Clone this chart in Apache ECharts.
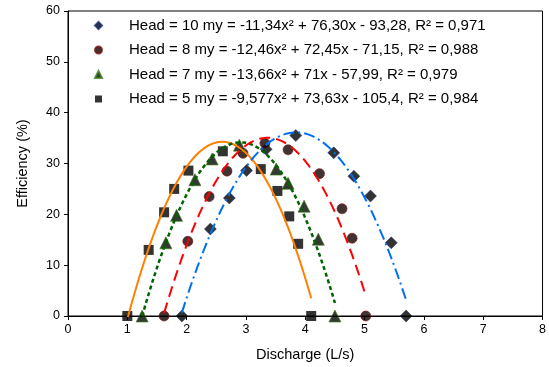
<!DOCTYPE html>
<html>
<head>
<meta charset="utf-8">
<script src="https://cdn.jsdelivr.net/npm/echarts@6/dist/echarts.min.js"></script>
<style>
  html, body { margin: 0; padding: 0; background: #fff; }
  #chart { width: 549px; height: 367px; }
</style>
</head>
<body>
<div id="chart"></div>
<script>
// Measured pump efficiency against discharge at four heads
const q10 = [1.92, 2.40, 2.72, 3.01, 3.34, 3.84, 4.48, 4.82, 5.10, 5.45, 5.70];
const eff10 = [0, 17.1, 23.2, 28.6, 32.8, 35.5, 32.1, 27.5, 23.6, 14.4, 0];

const q8 = [1.62, 2.02, 2.38, 2.68, 2.95, 3.32, 3.71, 4.24, 4.62, 4.79, 5.02];
const eff8 = [0, 14.7, 23.5, 28.5, 32.0, 34.0, 32.7, 28.0, 21.1, 15.3, 0];

const q7 = [1.25, 1.65, 1.83, 2.14, 2.43, 2.89, 3.51, 3.71, 3.98, 4.22, 4.50];
const eff7 = [0, 14.4, 19.8, 26.8, 30.9, 33.6, 28.9, 26.1, 21.6, 15.1, 0];

const q5 = [1.00, 1.36, 1.62, 1.79, 2.03, 2.61, 3.25, 3.53, 3.73, 3.88, 4.10];
const eff5 = [0, 13.0, 20.4, 25.0, 28.6, 32.4, 28.9, 24.6, 19.6, 14.2, 0];

// Quadratic trendline coefficients [a, b, c] for y = a x² + b x + c
const fitA = [-11.34, 76.30, -93.28];
const fitB = [-12.46, 72.45, -71.15];
const fitC = [-13.66, 71, -57.99];
const fitD = [-9.577, 73.63, -105.4];

const legendNames = [
  'Head = 10 my = -11,34x² + 76,30x - 93,28, R² = 0,971',
  'Head = 8 my = -12,46x² + 72,45x - 71,15, R² = 0,988',
  'Head = 7 my = -13,66x² + 71x - 57,99, R² = 0,979',
  'Head = 5 my = -9,577x² + 73,63x - 105,4, R² = 0,984'
];
const legendIcons = ['diamond', 'circle', 'triangle', 'rect'];

const xTicks = [0, 1, 2, 3, 4, 5, 6, 7, 8];
const yTicks = [0, 10, 20, 30, 40, 50, 60];

const FONT = '"Liberation Sans", Arial, sans-serif';

function pairs(xs, ys) { return xs.map((x, i) => [x, ys[i]]); }

// Trendline drawn across the x range of its data
function trend(coef, xs) {
  const lo = Math.min(...xs), hi = Math.max(...xs);
  const pts = [];
  const n = 80;
  for (let i = 0; i <= n; i++) {
    const x = lo + (hi - lo) * i / n;
    pts.push([x, coef[0] * x * x + coef[1] * x + coef[2]]);
  }
  return pts;
}

const chart = echarts.init(document.getElementById('chart'), null, { renderer: 'canvas' });

const option = {
  animation: false,
  backgroundColor: '#fff',
  grid: {
    left: 68, top: 11, right: 3, bottom: 50,
    show: true, borderColor: '#000', borderWidth: 1, backgroundColor: 'transparent'
  },
  legend: {
    data: legendNames.map((n, i) => ({ name: n, icon: legendIcons[i] })),
    orient: 'vertical',
    left: 89, top: 13,
    itemWidth: 7, itemHeight: 7, itemGap: 9.5,
    textStyle: { fontFamily: FONT, fontSize: 15, color: '#000', padding: [0, 0, 0, 22] }
  },
  xAxis: {
    type: 'value', min: xTicks[0], max: xTicks[xTicks.length - 1], interval: 1,
    name: 'Discharge (L/s)', nameLocation: 'middle', nameGap: 31,
    nameTextStyle: { fontFamily: FONT, fontSize: 14.5, color: '#000' },
    axisLine: { onZero: false, lineStyle: { color: '#000', width: 1 } },
    axisTick: { show: true, inside: false, length: 4, lineStyle: { color: '#000' } },
    axisLabel: { fontFamily: FONT, fontSize: 12.5, color: '#000', margin: 7 },
    splitLine: { show: false }
  },
  yAxis: {
    type: 'value', min: yTicks[0], max: yTicks[yTicks.length - 1], interval: 10,
    name: 'Efficiency (%)', nameLocation: 'middle', nameGap: 38,
    nameTextStyle: { fontFamily: FONT, fontSize: 14.5, color: '#000' },
    axisLine: { show: true, lineStyle: { color: '#000', width: 1 } },
    axisTick: { show: true, inside: false, length: 4, lineStyle: { color: '#000' } },
    axisLabel: { fontFamily: FONT, fontSize: 12.5, color: '#000', margin: 8 },
    splitLine: { show: false }
  },
  series: [
    { name: legendNames[0], type: 'scatter', data: pairs(q10, eff10), symbol: 'diamond', symbolSize: 12,
      itemStyle: { color: '#000', borderColor: '#102a70', borderWidth: 0.6 }, z: 3 },
    { name: legendNames[1], type: 'scatter', data: pairs(q8, eff8), symbol: 'circle', symbolSize: 10,
      itemStyle: { color: '#100000', borderColor: '#7a1010', borderWidth: 0.8 }, z: 3 },
    { name: legendNames[2], type: 'scatter', data: pairs(q7, eff7), symbol: 'triangle', symbolSize: 12,
      itemStyle: { color: '#030800', borderColor: '#3f7f1a', borderWidth: 0.8 }, z: 3 },
    { name: legendNames[3], type: 'scatter', data: pairs(q5, eff5), symbol: 'rect', symbolSize: 10,
      itemStyle: { color: '#000' }, z: 3 },

    { type: 'line', data: trend(fitC, q5), showSymbol: false, symbol: 'none', smooth: false, z: 4,
      lineStyle: { color: '#FF8000', width: 2, type: 'solid' } },
    { type: 'line', data: trend(fitB, q7), showSymbol: false, symbol: 'none', smooth: false, z: 4,
      lineStyle: { color: '#006400', width: 2.5, type: [4, 3] } },
    { type: 'line', data: trend(fitA, q8), showSymbol: false, symbol: 'none', smooth: false, z: 4,
      lineStyle: { color: '#FF0000', width: 2, type: [11, 6] } },
    { type: 'line', data: trend(fitD, q10), showSymbol: false, symbol: 'none', smooth: false, z: 4,
      lineStyle: { color: '#0070F0', width: 2, type: [11, 4, 2, 4] } }
  ]
};

chart.setOption(option);
</script>
</body>
</html>
